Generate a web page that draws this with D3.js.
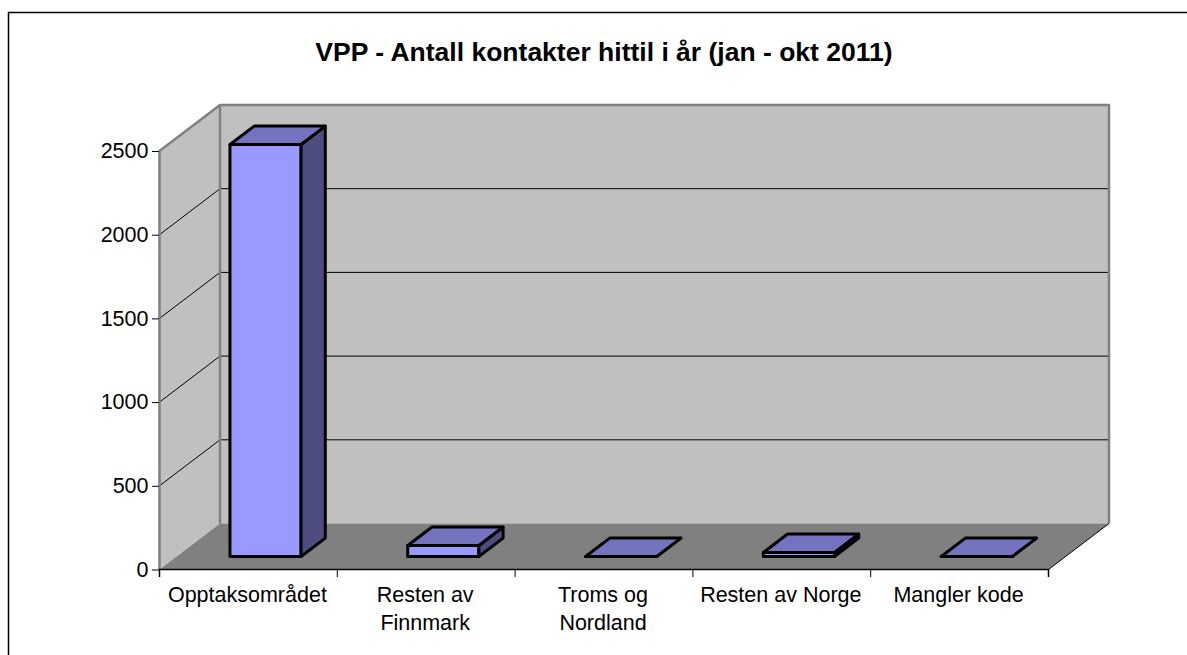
<!DOCTYPE html>
<html>
<head>
<meta charset="utf-8">
<script src="https://cdn.jsdelivr.net/npm/d3@7"></script>
<style>
body{margin:0;background:#fff;}
svg{display:block;}
text{font-family:"Liberation Sans",Arial,sans-serif;fill:#000;}
</style>
</head>
<body>
<svg></svg>
<script>
const titleText = "VPP - Antall kontakter hittil i år (jan - okt 2011)";
const categories = ["Opptaksområdet","Resten av Finnmark","Troms og Nordland","Resten av Norge","Mangler kode"];
const categoryLines = [["Opptaksområdet"],["Resten av","Finnmark"],["Troms og","Nordland"],["Resten av Norge"],["Mangler kode"]];
const values = [2461,66,0,24,0];
const yTicks = [0,500,1000,1500,2000,2500];

const w = 1187, h = 655;
const plotLeft = 159.5, plotRight = 1048.5, plotBottom = 569.5, plotTop = 151;
const depthX = 60.5, depthY = -46;//how far the back wall sits from the front plane
const barZ = 0.283, barDepth = 0.4;//bar position inside the depth, as a share of it

const svg = d3.select("svg").attr("width",w).attr("height",h);

const yScale = d3.scaleLinear().domain([0,2500]).range([plotBottom,plotTop]);
const xBand = d3.scaleBand().domain(categories).range([plotLeft,plotRight]).paddingInner(0).paddingOuter(0);
const xTicks = d3.scaleLinear().domain([0,categories.length]).range([plotLeft,plotRight]);

const poly = (pts,fill,stroke,sw) => svg.append("polygon")
    .attr("points",pts.map(p=>p.join(",")).join(" "))
    .attr("fill",fill)
    .attr("stroke",stroke || "none")
    .attr("stroke-width",sw || 0)
    .attr("stroke-linejoin","round");

//outer chart frame, only top and left show in the picture
svg.append("path").attr("d","M8.5,655V12.5H1187").attr("fill","none").attr("stroke","#000").attr("stroke-width",1.5);

//title
svg.append("text").attr("x",604).attr("y",61).attr("text-anchor","middle")
    .attr("font-size",26.5).attr("font-weight","bold").text(titleText);

//walls
const backL = plotLeft+depthX, backR = plotRight+depthX;
const yBackTop = yScale(2500)+depthY, yBackBottom = yScale(0)+depthY;
poly([[plotLeft,yScale(2500)],[backL,yBackTop],[backL,yBackBottom],[plotLeft,yScale(0)]],"#c0c0c0");
poly([[backL,yBackTop],[backR,yBackTop],[backR,yBackBottom],[backL,yBackBottom]],"#c0c0c0");

//gridlines on both walls
const gridTicks = yTicks.slice(1,-1);
svg.selectAll(".grid").data(gridTicks).enter().append("path").attr("class","grid")
    .attr("d",d=>`M${plotLeft},${yScale(d)}L${backL},${yScale(d)+depthY}H${backR}`)
    .attr("fill","none").attr("stroke","#000").attr("stroke-width",1);

//floor
poly([[plotLeft,yScale(0)],[backL,yBackBottom],[backR,yBackBottom],[plotRight,yScale(0)]],"#808080");

//wall borders
svg.append("path")
    .attr("d",`M${plotLeft},${yScale(0)}V${yScale(2500)}L${backL},${yBackTop}V${yBackBottom}M${backL},${yBackTop}H${backR}V${yBackBottom}`)
    .attr("fill","none").attr("stroke","#808080").attr("stroke-width",2.5).attr("stroke-linejoin","round");
svg.append("line").attr("x1",plotRight).attr("y1",yScale(0)).attr("x2",backR).attr("y2",yBackBottom)
    .attr("stroke","#000").attr("stroke-width",1);

//bars
categories.forEach((c,i)=>{
    const bw = xBand.step()*0.4;
    const x0 = xBand(c)+xBand.step()*0.3+depthX*barZ;
    const x1 = x0+bw;
    const y0 = yScale(0)+depthY*barZ;
    const y1 = yScale(values[i])+depthY*barZ;
    const dx = depthX*barDepth, dy = depthY*barDepth;
    poly([[x0,y1],[x1,y1],[x1,y0],[x0,y0]],"#9999ff","#000",3);
    poly([[x1,y1],[x1+dx,y1+dy],[x1+dx,y0+dy],[x1,y0]],"#4d4d80","#000",3);
    poly([[x0,y1],[x0+dx,y1+dy],[x1+dx,y1+dy],[x1,y1]],"#7373bf","#000",3);
});

//axes
const yAxis = d3.axisLeft(yScale).tickValues(yTicks).tickSize(7).tickPadding(3.5).tickFormat(d3.format("d"));
const gy = svg.append("g").attr("transform",`translate(${plotLeft-0.5},0)`).call(yAxis);
gy.select(".domain").remove();
gy.selectAll("text").attr("font-size",21.5).attr("font-family",null);
gy.selectAll("line").attr("stroke","#000");

const xAxis = d3.axisBottom(xTicks).ticks(categories.length).tickSize(8).tickFormat("");
const gx = svg.append("g").attr("transform",`translate(-0.5,${plotBottom-0.5})`).call(xAxis);
gx.select(".domain").attr("stroke","#000").attr("stroke-width",1.5);
gx.selectAll("line").attr("stroke","#000");

//category labels
const labels = svg.selectAll(".cat").data(categories).enter().append("text").attr("class","cat")
    .attr("text-anchor","middle").attr("font-size",21.5)
    .attr("y",602);
labels.each(function(c,i){
    const t = d3.select(this);
    categoryLines[i].forEach((line,k)=>{
        t.append("tspan").attr("x",xBand(c)+xBand.step()/2-1).attr("dy",k?28:0).text(line);
    });
});
</script>
</body>
</html>
